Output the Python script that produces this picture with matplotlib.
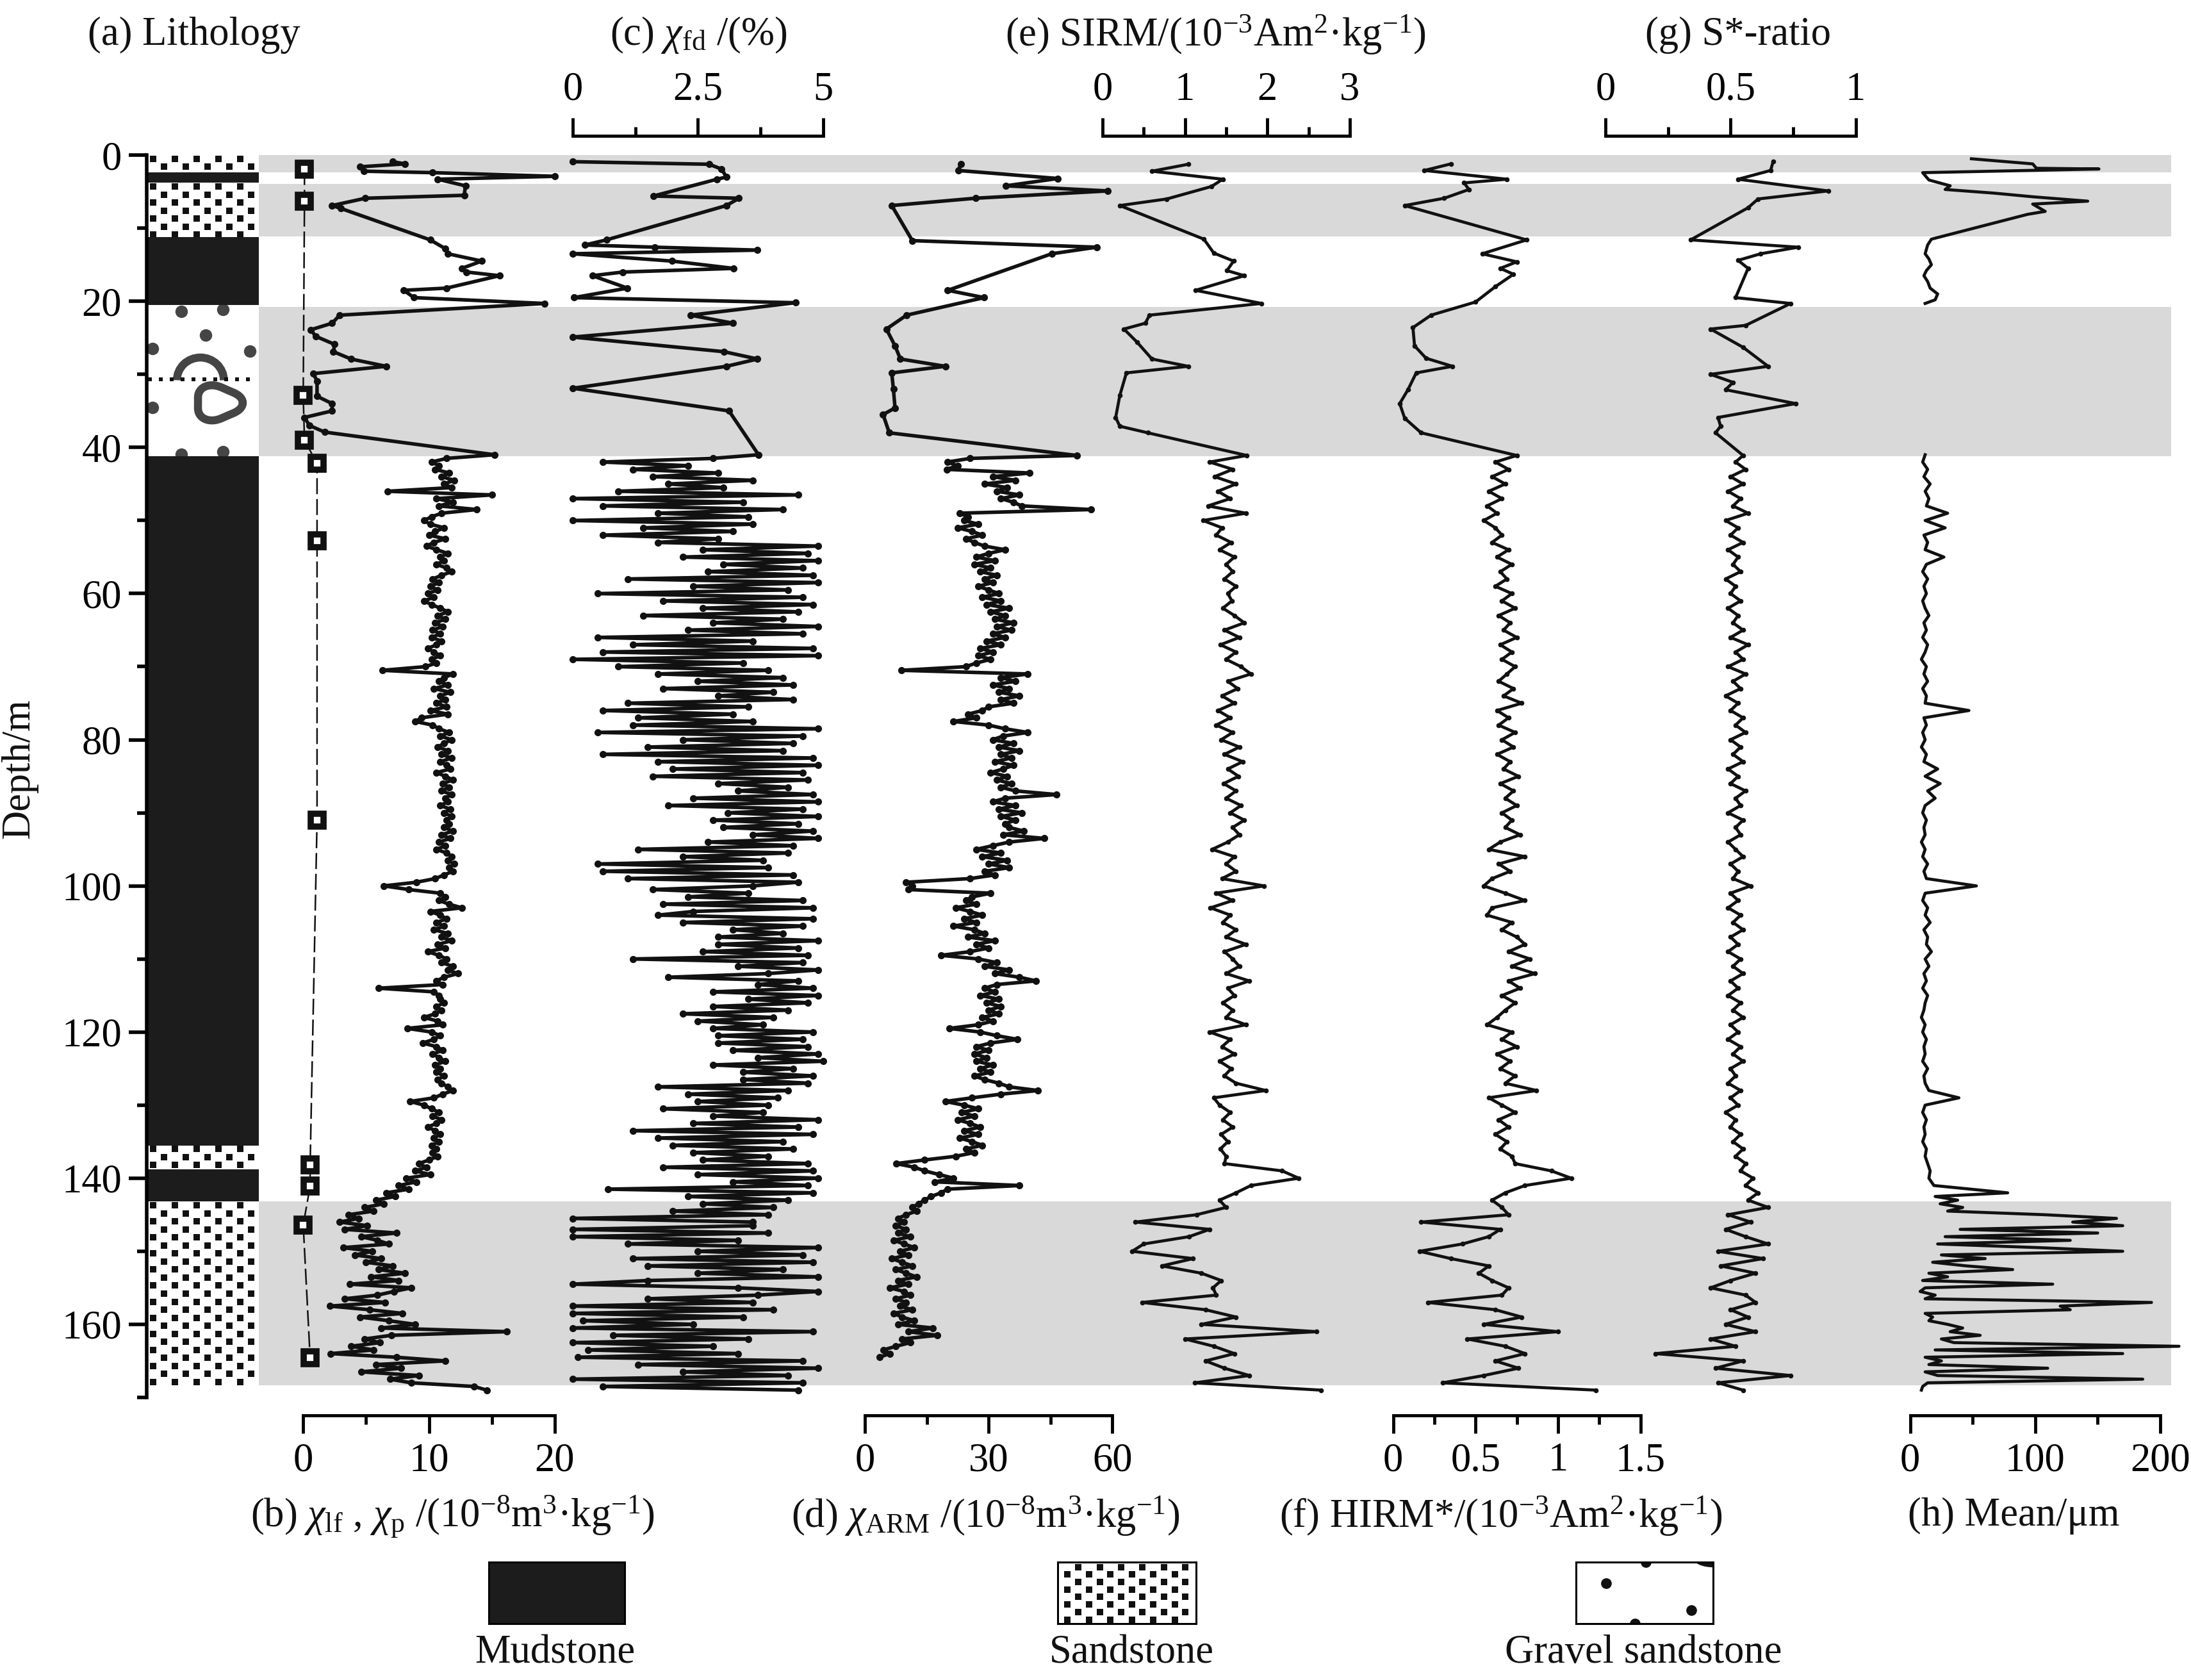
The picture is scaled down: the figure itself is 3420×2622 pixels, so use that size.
import numpy as np
import matplotlib
matplotlib.use("Agg")
import matplotlib.pyplot as plt
from matplotlib.patches import Rectangle, Arc, Circle

plt.rcParams['font.family'] = ['Liberation Serif', 'DejaVu Serif']
plt.rcParams['mathtext.fontset'] = 'custom'
plt.rcParams['mathtext.rm'] = 'Liberation Serif'
plt.rcParams['mathtext.it'] = 'Liberation Serif:italic'
plt.rcParams['mathtext.bf'] = 'Liberation Serif:bold'
plt.rcParams['mathtext.sf'] = 'Liberation Serif'

# ---------------- DATA ----------------
# Lithology (depth in m)
lith_top = [0.0, 2.4, 3.8, 11.2, 20.5, 41.2, 135.5, 138.8, 143.2]
lith_bot = [2.4, 3.8, 11.2, 20.5, 41.2, 135.5, 138.8, 143.2, 168.3]
lith_type = ['sand', 'mud', 'sand', 'mud', 'gravel', 'mud', 'sand', 'mud', 'sand']
# grey (coarse) bands
band_top = [0.0, 3.9, 20.8, 143.2]
band_bot = [2.4, 11.1, 41.2, 168.3]

# (b) chi_lf
chilf_top_d = [0.9, 1.2, 1.6, 2.2, 2.4, 2.9, 3.3, 4.2, 5.5, 5.9, 6.9, 7.3, 11.6, 12.8, 13.5, 14.5,
               15.5, 16.0, 16.5, 18.2, 18.5, 19.5, 20.3, 21.9, 23.0, 23.9, 24.8, 25.9, 26.9, 27.9,
               28.9, 29.9, 30.9, 33.0, 34.0, 35.0, 35.9, 37.0, 37.9, 41.0]
chilf_top_v = [7.1, 8.1, 4.5, 4.8, 10.3, 20.0, 10.7, 12.9, 12.8, 4.95, 2.3, 3.0, 10.1, 11.3, 11.5, 14.2,
               12.6, 13.0, 15.6, 11.4, 8.0, 8.8, 19.2, 2.9, 2.3, 0.6, 1.0, 2.5, 2.4, 3.8,
               6.6, 0.8, 1.1, 1.1, 2.3, 2.3, 0.1, 0.5, 1.7, 15.2]
# dense part, every 0.5 m from 41.5 m
chilf_dense = [
    11.4, 10.2, 10.8, 10.5, 11.6, 11.0, 12.0, 11.2, 11.8, 6.7, 15.0, 10.6, 11.9, 10.8, 13.8, 11.0, 10.2, 9.6, 10.1, 11.2,
    10.5, 10.0, 11.3, 10.4, 9.8, 10.6, 11.5, 10.9, 11.2, 10.6, 11.4, 11.8, 11.0, 10.3, 10.8, 10.1, 10.7, 9.9, 10.4, 9.6,
    10.2, 10.9, 11.5, 10.7, 11.3, 10.5, 11.1, 10.3, 10.9, 10.2, 11.0, 10.6, 9.9, 10.4, 10.9, 10.2, 10.6, 9.7, 6.3, 11.9,
    11.2, 10.8, 11.5, 10.4, 11.7, 10.9, 11.3, 10.6, 11.4, 10.1, 11.5, 9.4, 8.9, 10.3, 10.8, 11.6, 10.9, 11.8, 11.2, 10.7,
    11.5, 11.0, 11.8, 10.9, 11.4, 11.7, 10.6, 11.3, 11.9, 11.1, 11.6, 11.0, 11.8, 11.3, 11.5, 10.9, 11.7, 11.2, 11.8, 11.4,
    11.6, 11.2, 11.9, 11.0, 11.7, 10.8, 11.3, 10.6, 11.4, 11.8, 11.5, 12.0, 11.6, 11.9, 11.2, 10.5, 9.0, 6.4, 8.4, 10.9,
    11.3, 10.8, 11.6, 12.6, 10.1, 10.9, 11.4, 10.6, 11.2, 10.4, 11.5, 11.0, 11.8, 10.7, 11.3, 9.9, 10.8, 11.4, 11.0, 11.9,
    11.5, 12.3, 11.2, 10.6, 11.1, 6.0, 10.4, 10.8, 10.9, 11.2, 10.6, 11.0, 10.5, 9.6, 10.7, 11.1, 8.3, 10.2, 10.9, 10.4,
    9.5, 10.6, 11.1, 10.3, 10.8, 11.3, 10.5, 10.9, 10.6, 11.2, 10.7, 11.0, 11.5, 11.9, 11.1, 10.4, 8.5, 9.6, 10.2, 10.8,
    10.3, 11.0, 10.6, 9.9, 10.5, 10.9, 10.4, 10.8, 10.2, 10.6, 10.3, 10.7, 10.0, 9.2, 9.8, 8.9, 10.1, 8.2, 9.0, 7.6,
    8.4, 6.6, 7.3, 5.8, 6.4, 4.9, 5.6, 3.6, 4.4, 2.9, 5.1, 3.3, 7.4, 4.6, 5.9, 6.8, 3.2, 5.5, 4.1, 6.2,
    5.0, 7.1, 6.0, 8.1, 5.4, 7.6, 3.7, 8.6, 7.2, 5.9, 3.3, 6.5, 2.1, 5.3, 7.9, 4.5, 6.8, 8.9, 6.2, 16.2,
    7.0, 4.9, 6.1, 3.8, 5.6, 2.2, 7.4, 11.3, 5.8, 7.8, 4.6, 9.2, 6.9, 8.6, 13.6, 14.6]
# (b) chi_p
chip_d = [1.9, 6.3, 32.9, 39.0, 42.2, 52.8, 91.0, 138.2, 141.1, 146.4, 164.6]
chip_v = [0.1, 0.1, 0.0, 0.1, 1.1, 1.1, 1.1, 0.55, 0.55, 0.0, 0.55]

# (c) chi_fd
chifd_top_d = [0.9, 1.25, 1.9, 3.0, 3.3, 5.6, 5.9, 6.9, 11.6, 12.3, 12.6, 13.0, 13.5, 14.5, 15.5,
               16.0, 16.5, 18.2, 19.5, 20.2, 21.9, 23.0, 24.9, 26.9, 27.9, 28.9, 31.9, 35.0, 41.0]
chifd_top_v = [0.0, 2.72, 2.97, 3.07, 2.88, 1.61, 3.32, 3.07, 0.67, 0.24, 1.64, 3.69, 0.0, 1.98, 3.21,
               1.0, 0.39, 1.09, 0.02, 4.45, 2.35, 3.2, 0.0, 3.02, 3.69, 3.07, 0.0, 3.12, 3.71]
chifd_dense = [
    2.8, 0.6, 2.3, 1.2, 2.9, 1.6, 3.6, 1.9, 3.0, 0.9, 4.5, 0.0, 3.4, 0.6, 4.2, 1.7, 3.5, 0.0, 3.6, 1.4,
    3.2, 0.6, 2.9, 1.7, 4.9, 2.6, 4.7, 2.2, 4.9, 3.0, 4.6, 2.7, 4.8, 1.1, 4.9, 2.4, 4.3, 0.5, 4.6, 1.8,
    4.8, 2.6, 4.5, 1.4, 4.2, 2.8, 4.9, 2.3, 4.6, 0.5, 3.6, 1.2, 4.8, 0.6, 4.9, 0.0, 3.4, 0.9, 3.9, 1.7,
    4.2, 2.5, 4.4, 1.8, 4.0, 2.9, 4.4, 1.1, 3.5, 0.6, 3.2, 1.3, 3.6, 1.2, 4.9, 0.5, 4.6, 2.2, 4.4, 1.5,
    4.2, 0.6, 4.8, 1.7, 4.9, 2.0, 4.6, 1.6, 4.7, 2.9, 4.3, 3.3, 4.8, 2.4, 4.9, 1.9, 4.6, 3.1, 4.9, 2.8,
    4.5,
    3.0, 4.8, 3.6, 4.9, 2.7, 4.4, 1.3, 4.3, 2.2, 3.8, 0.5, 3.9, 0.6, 4.4, 1.1, 4.5, 3.6, 1.6, 3.5, 2.3,
    4.6, 1.8, 4.8, 2.4, 1.7, 4.8, 2.2, 4.6, 3.2, 4.2, 2.9, 4.9, 2.9, 4.5, 2.6, 4.7, 1.2, 4.6, 3.3, 4.9,
    3.9, 1.9, 4.5, 3.7, 4.8, 2.8, 4.9, 3.5, 4.7, 2.8, 4.3, 2.2, 4.0, 2.5, 3.8, 2.8, 4.8, 2.9, 4.6, 2.9,
    4.7, 3.2, 4.9, 3.7, 5.0, 2.8, 4.4, 3.4, 4.8, 3.4, 4.7, 1.7, 4.3, 2.3, 4.1, 2.5, 3.9, 1.8, 3.8, 2.8,
    4.9, 2.4, 4.5, 1.2, 4.8, 1.7, 4.2, 2.0, 4.4, 2.4, 3.9, 2.6, 4.7, 1.8, 4.8, 2.5, 4.9, 3.2, 4.7, 0.7,
    4.8, 2.3, 4.3, 2.6, 4.0, 2.0, 3.9, 0.0, 3.6,
    3.6, 0.0, 3.9, 0.0, 3.3, 1.1, 4.9, 2.5, 4.6, 1.2, 4.8, 1.5, 4.2, 2.5, 4.9, 1.5, 0.0, 3.3, 4.9, 3.7,
    1.5, 3.6, 0.0, 4.0, 0.0, 3.4, 0.2, 2.4, 0.0, 4.8, 0.8, 3.5, 0.0, 2.8, 0.3, 3.3, 0.1, 4.6, 1.3, 4.9,
    2.2, 4.3, 0.0, 4.6, 0.6, 4.5]

# (d) chi_ARM
chiarm_top_d = [1.2, 2.1, 3.2, 4.2, 4.9, 5.9, 6.9, 11.7, 12.6, 13.5, 18.5, 19.5, 21.9, 23.8, 26.1,
                27.9, 28.9, 29.8, 32.0, 34.6, 35.5, 38.0, 41.1]
chiarm_top_v = [23.3, 22.6, 46.8, 34.2, 58.9, 26.8, 6.5, 11.5, 56.2, 45.3, 20.1, 28.9, 10.1, 5.2, 7.3,
                8.6, 19.5, 6.5, 6.9, 7.3, 4.4, 5.9, 51.4]
chiarm_dense = [
    25.5, 20.0, 22.5, 19.8, 40.0, 31.0, 36.5, 29.0, 34.5, 32.0, 37.5, 33.0, 36.0, 38.0, 54.8, 23.0, 25.0, 24.0, 27.5, 22.5,
    26.0, 28.5, 24.5, 26.5, 29.0, 34.0, 30.0, 27.0, 31.5, 26.5, 30.5, 28.0, 32.0, 29.0, 31.0, 27.5, 30.0, 32.5, 28.5, 33.0,
    29.5, 35.0, 30.5, 34.0, 31.5, 36.0, 32.0, 35.5, 31.0, 34.0, 29.5, 33.0, 28.0, 31.0, 27.5, 30.5, 27.0, 24.5, 8.9, 39.5,
    33.0, 36.5, 31.0, 35.0, 32.5, 37.5, 33.0, 36.0, 30.0, 28.5, 25.0, 27.0, 21.5, 30.0, 34.0, 39.5, 33.5, 31.0, 36.0, 32.5,
    37.5, 33.0, 35.5, 31.5, 36.0, 33.5, 30.5, 34.5, 32.0, 35.5, 33.0, 36.5, 46.5, 34.0, 31.0, 36.5, 32.5, 38.0, 33.0, 36.5,
    34.0,
    35.0, 38.5, 33.5, 43.5, 35.0, 31.0, 27.0, 33.0, 28.5, 34.5, 30.0, 35.0, 29.0, 31.5, 25.5, 10.0, 11.5, 10.5, 30.5, 26.0,
    24.5, 27.0, 22.0, 25.5, 28.5, 24.0, 27.0, 21.5, 26.5, 29.0, 25.0, 31.5, 27.0, 30.0, 25.5, 18.5, 27.5, 32.0, 29.0, 35.0,
    31.5, 37.5, 41.5, 32.0, 29.0, 31.5, 28.0, 32.5, 29.5, 33.0, 30.0, 32.5, 28.5, 31.0, 27.5, 20.5, 28.0, 32.0, 37.0, 30.5,
    27.0, 30.0, 26.5, 29.5, 27.0, 31.0, 28.0, 30.5, 26.5, 29.0, 32.5, 35.0, 42.0, 33.0, 26.0, 19.5, 24.0, 27.5, 23.5, 26.5,
    22.5, 25.5, 28.0, 24.0, 27.5, 23.0, 26.0, 28.5, 24.5, 26.5, 22.0, 14.5, 7.6, 12.0, 14.5, 18.0, 21.5, 17.0, 37.5, 20.0,
    18.5, 16.0, 14.5, 13.0, 11.5, 12.5, 10.0, 8.0, 9.5,
    7.5, 10.0, 8.0, 11.0, 7.0, 9.5, 12.0, 8.5, 10.5, 6.5, 9.0, 11.5, 7.5, 10.0, 12.5, 8.0, 10.5, 6.0, 9.5, 11.0,
    7.5, 10.0, 8.5, 11.5, 7.0, 9.0, 12.0, 8.0, 16.5, 10.5, 17.5, 9.0, 11.0, 7.5, 4.5, 6.0, 3.5]

# (e) SIRM
sirm_top_d = [1.25, 2.2, 3.3, 4.3, 6.0, 6.9, 11.5, 13.4, 14.5, 15.8, 16.5, 18.5, 20.3, 21.9, 23.0,
              23.8, 25.6, 27.9, 28.9, 29.8, 32.9, 35.9, 37.1, 38.0, 41.1]
sirm_top_v = [1.04, 0.6, 1.46, 1.32, 0.78, 0.21, 1.23, 1.35, 1.59, 1.51, 1.72, 1.13, 1.93, 0.57, 0.52,
              0.26, 0.42, 0.6, 1.04, 0.29, 0.21, 0.16, 0.21, 0.55, 1.75]
# every 1 m from 42 m
sirm_dense = [
    1.30, 1.58, 1.36, 1.62, 1.40, 1.55, 1.28, 1.74, 1.22, 1.45, 1.38, 1.56, 1.42, 1.60, 1.50, 1.58, 1.48, 1.62, 1.52, 1.57,
    1.46, 1.60, 1.72, 1.48, 1.66, 1.43, 1.62, 1.50, 1.68, 1.80, 1.52, 1.64, 1.45, 1.60, 1.40, 1.55, 1.38, 1.58, 1.44, 1.66,
    1.48, 1.70, 1.52, 1.65, 1.47, 1.62, 1.50, 1.68, 1.55, 1.72, 1.58, 1.66, 1.52, 1.33, 1.60, 1.50, 1.62, 1.45, 1.96, 1.38,
    1.58, 1.31, 1.55, 1.46, 1.62, 1.50, 1.74, 1.48, 1.58, 1.66, 1.50, 1.78, 1.52, 1.60, 1.46, 1.58, 1.50, 1.74, 1.30, 1.55,
    1.45, 1.60, 1.42, 1.56, 1.48, 1.62, 1.98, 1.35, 1.42, 1.55, 1.46, 1.58, 1.44, 1.52, 1.43, 1.50, 1.48, 2.18, 2.38, 1.80,
    1.62, 1.42, 1.50, 1.14, 0.40, 1.30, 1.05, 0.50, 0.36, 1.10, 0.72, 1.20, 1.44, 1.34, 1.38, 0.48, 1.25, 1.62, 1.20, 2.60,
    1.00, 1.35, 1.60, 1.25, 1.48, 1.78, 1.12, 2.65]

# (f) HIRM*
hirm_top_d = [1.2, 2.1, 3.3, 3.8, 4.7, 5.9, 6.9, 11.6, 13.5, 14.6, 15.5, 16.3, 18.0, 20.1, 21.9,
              23.6, 26.1, 27.8, 28.9, 29.8, 32.1, 34.0, 36.0, 38.0, 41.1]
hirm_top_v = [0.35, 0.19, 0.69, 0.43, 0.46, 0.31, 0.07, 0.81, 0.54, 0.75, 0.65, 0.73, 0.62, 0.5, 0.23,
              0.12, 0.13, 0.2, 0.36, 0.14, 0.09, 0.04, 0.07, 0.17, 0.75]
hirm_dense = [
    0.62, 0.70, 0.60, 0.68, 0.58, 0.66, 0.57, 0.63, 0.55, 0.62, 0.66, 0.60, 0.70, 0.63, 0.72, 0.65, 0.69, 0.62, 0.72, 0.66,
    0.74, 0.64, 0.71, 0.67, 0.75, 0.65, 0.72, 0.66, 0.74, 0.69, 0.64, 0.73, 0.67, 0.78, 0.63, 0.70, 0.64, 0.74, 0.66, 0.73,
    0.63, 0.71, 0.67, 0.76, 0.65, 0.73, 0.68, 0.75, 0.66, 0.72, 0.68, 0.77, 0.65, 0.58, 0.80, 0.64, 0.71, 0.60, 0.55, 0.68,
    0.80, 0.60, 0.57, 0.72, 0.66, 0.75, 0.80, 0.70, 0.83, 0.72, 0.86, 0.70, 0.77, 0.66, 0.74, 0.68, 0.63, 0.57, 0.72, 0.66,
    0.75, 0.63, 0.71, 0.65, 0.74, 0.68, 0.87, 0.58, 0.66, 0.74, 0.64, 0.70, 0.62, 0.69, 0.65, 0.72, 0.74, 0.96, 1.08, 0.80,
    0.68, 0.60, 0.66, 0.70, 0.17, 0.65, 0.58, 0.42, 0.16, 0.35, 0.58, 0.52, 0.60, 0.70, 0.66, 0.21, 0.62, 0.78, 0.55, 1.00,
    0.45, 0.68, 0.80, 0.62, 0.76, 0.55, 0.30, 1.23]

# (g) S*-ratio
sr_top_d = [0.9, 2.1, 3.3, 4.9, 6.0, 7.2, 11.6, 12.6, 13.5, 14.4, 15.5, 19.5, 20.3, 23.3, 23.8,
            26.3, 28.9, 30.0, 31.1, 32.1, 34.0, 35.9, 37.1, 38.0, 41.1]
sr_top_v = [0.67, 0.66, 0.53, 0.89, 0.61, 0.57, 0.34, 0.77, 0.62, 0.53, 0.57, 0.52, 0.74, 0.56, 0.42,
            0.55, 0.65, 0.42, 0.51, 0.48, 0.76, 0.45, 0.46, 0.44, 0.55]
sr_dense = [
    0.52, 0.56, 0.50, 0.55, 0.49, 0.54, 0.51, 0.57, 0.48, 0.53, 0.50, 0.55, 0.49, 0.53, 0.51, 0.54, 0.48, 0.52, 0.50, 0.54,
    0.49, 0.53, 0.51, 0.55, 0.50, 0.57, 0.52, 0.55, 0.49, 0.56, 0.51, 0.54, 0.48, 0.53, 0.50, 0.55, 0.52, 0.56, 0.50, 0.54,
    0.51, 0.55, 0.49, 0.53, 0.50, 0.56, 0.52, 0.54, 0.49, 0.55, 0.52, 0.54, 0.49, 0.52, 0.55, 0.50, 0.53, 0.51, 0.58, 0.50,
    0.53, 0.49, 0.54, 0.51, 0.55, 0.50, 0.53, 0.49, 0.54, 0.51, 0.55, 0.50, 0.53, 0.49, 0.54, 0.51, 0.55, 0.50, 0.53, 0.49,
    0.54, 0.51, 0.55, 0.50, 0.52, 0.49, 0.54, 0.50, 0.53, 0.48, 0.52, 0.50, 0.54, 0.51, 0.55, 0.52, 0.56, 0.54, 0.59, 0.56,
    0.61, 0.57, 0.65, 0.49, 0.58, 0.48, 0.56, 0.65, 0.45, 0.63, 0.46, 0.60, 0.50, 0.42, 0.56, 0.60, 0.50, 0.57, 0.48, 0.60,
    0.42, 0.52, 0.20, 0.55, 0.44, 0.74, 0.45, 0.55]

# (h) Mean grain size
mean_top_d = [0.5, 1.2, 1.8, 1.9, 2.4, 3.4, 4.2, 4.7, 5.2, 5.7, 6.3, 6.7, 7.7, 8.1, 11.5,
              12.3, 13.5, 14.2, 15.0, 15.8, 16.5, 17.3, 18.2, 19.0, 19.8, 20.3]
mean_top_v = [49, 98, 101, 151, 10, 15, 32, 28, 67, 98, 142, 98, 108, 94, 17,
              14, 12, 15, 17, 13, 11, 14, 16, 22, 20, 12]
# every 1 m from 41 m to 142 m
mean_mud = [
    12, 10, 14, 11, 16, 12, 15, 13, 30, 12, 28, 11, 14, 12, 27, 13, 10, 14, 11, 13,
    10, 12, 15, 11, 13, 10, 14, 12, 9, 13, 11, 14, 10, 13, 12, 47, 11, 13, 10, 12,
    9, 13, 11, 22, 12, 24, 14, 20, 12, 10, 13, 11, 12, 9, 12, 10, 14, 11, 13, 53,
    12, 10, 14, 12, 16, 11, 14, 13, 17, 12, 15, 11, 13, 10, 14, 12, 11, 9, 12, 10,
    13, 11, 12, 10, 14, 11, 12, 15, 39, 12, 10, 13, 11, 12, 10, 13, 12, 14, 16, 15,
    19, 78]
# every 0.5 m from 142.5 m
mean_sand = [
    20, 38, 24, 42, 30, 108, 165, 130, 170, 40, 150, 28, 128, 22, 103, 170, 25, 60, 18, 45,
    82, 15, 30, 10, 114, 12, 8, 20, 12, 193, 120, 128, 12, 18, 15, 30, 42, 32, 56, 25,
    35, 215, 20, 170, 12, 25, 15, 110, 12, 22, 186, 14, 10, 9]

# ---------------- LAYOUT ----------------
W, H = 3420, 2622
SX, SY = 1568.0, 1202.2   # reference coordinates used for layout
FS = 45
DMAX = 170.0
Y0, Y1 = 111, 1000        # depth 0 and 170
AXB, AXT = 1013, 97       # scale-bar lines
INK = '#111111'
MUD = '#1c1c1c'
GRAV = '#454545'
BAND = '#d9d9d9'

fig = plt.figure(figsize=(W / 100, H / 100), dpi=100)


def rect(x0, y0, x1, y1):
    return [x0 / SX, 1 - y1 / SY, (x1 - x0) / SX, (y1 - y0) / SY]


# background grey bands
ax_bg = fig.add_axes(rect(185, Y0, 1554, Y1))
ax_bg.set_xlim(0, 1)
ax_bg.set_ylim(DMAX, 0)
ax_bg.axis('off')
for t, b in zip(band_top, band_bot):
    ax_bg.axhspan(t, b, color=BAND, lw=0)

# lithology column + depth axis
ax_l = fig.add_axes(rect(105, Y0, 185, Y1))
ax_l.set_xlim(0, 1)
ax_l.set_ylim(DMAX, 0)
for s in ['top', 'right', 'bottom']:
    ax_l.spines[s].set_visible(False)
ax_l.spines['left'].set_linewidth(4)
ax_l.set_xticks([])
ax_l.set_yticks(np.arange(0, 161, 20))
ax_l.set_yticks(np.arange(10, 171, 20), minor=True)
ax_l.tick_params(axis='y', which='major', length=20, width=4, labelsize=FS, pad=8)
ax_l.tick_params(axis='y', which='minor', length=11, width=4)

xs_even = [0.06, 0.254, 0.448, 0.642, 0.836]
xs_odd = [0.157, 0.351, 0.545, 0.739, 0.933]


def sand_marks(ax, d0, d1, step, xe, xo, ms, z=2):
    rows = np.arange(d0 + step * 0.45, d1 - step * 0.25, step)
    for k, r in enumerate(rows):
        xs = xe if k % 2 == 0 else xo
        ax.plot(xs, [r] * len(xs), ls='none', marker='s', ms=ms, mfc=INK, mec=INK,
                mew=0, zorder=z)


for t, b, kind in zip(lith_top, lith_bot, lith_type):
    if kind == 'mud':
        ax_l.add_patch(Rectangle((0, t), 1, b - t, facecolor=MUD, edgecolor='none', zorder=3))
    elif kind == 'sand':
        ax_l.add_patch(Rectangle((0, t), 1, b - t, facecolor='white', edgecolor='none', zorder=1))
        sand_marks(ax_l, t, b, 1.1, xs_even, xs_odd, 7)
    else:
        ax_l.add_patch(Rectangle((0, t), 1, b - t, facecolor='white', edgecolor='none', zorder=1))
        # gravel symbols
        gx = [0.31, 0.68, 0.53, 0.05, 0.92, 0.05, 0.31, 0.68]
        gy = [21.4, 21.1, 24.6, 26.5, 26.8, 34.5, 40.9, 40.6]
        ax_l.plot(gx, gy, ls='none', marker='o', ms=13, mfc=GRAV, mec=GRAV, zorder=2)
        # arch (inverted depth axis: 180-360 draws the upper half on screen)
        ax_l.add_patch(Arc((0.48, 30.8), 0.42, 6.2, theta1=180, theta2=360, color=GRAV,
                           lw=9, zorder=2))
        # dashed parting line
        ax_l.plot(np.arange(0.03, 1.0, 0.097), [30.7] * 10, ls='none', marker='s', ms=5,
                  mfc=INK, mec=INK, mew=0, zorder=2)
        th = np.linspace(0, 2 * np.pi, 200)
        r = 16.0 * (1 + 0.12 * np.cos(3 * th))
        rx = 0.635 + (r * np.cos(th)) / 80.0
        ry = 33.9 + (r * np.sin(th) * 0.75) / 5.231
        ax_l.plot(rx, ry, color=GRAV, lw=9, zorder=2, solid_capstyle='round')
ax_l.spines['left'].set_zorder(5)


def data_axes(x0, x1, xmax):
    ax = fig.add_axes(rect(x0, Y0, x1, Y1))
    ax.set_xlim(0, xmax)
    ax.set_ylim(DMAX, 0)
    ax.axis('off')
    return ax


def scale_axis(x0, x1, xmax, majors, labels, minors, side):
    if side == 'bottom':
        ax = fig.add_axes(rect(x0, AXB - 1, x1, AXB))
    else:
        ax = fig.add_axes(rect(x0, AXT, x1, AXT + 1))
    ax.set_xlim(0, xmax)
    ax.patch.set_alpha(0)
    for s in ['left', 'right', 'top', 'bottom']:
        ax.spines[s].set_visible(s == side)
    ax.spines[side].set_linewidth(3.5)
    ax.set_yticks([])
    ax.xaxis.set_ticks_position(side)
    ax.set_xticks(majors)
    ax.set_xticklabels(labels)
    ax.set_xticks(minors, minor=True)
    ax.tick_params(axis='x', which='major', direction='out', length=20, width=3.5,
                   labelsize=FS, pad=10)
    ax.tick_params(axis='x', which='minor', direction='out', length=10, width=3.5)
    return ax


LW = 4.0
MS = 7.0
LW2 = 3.4
MS2 = 4.5

# (b)
ax_b = data_axes(217, 397, 20)
d = np.concatenate([chilf_top_d, 41.5 + 0.5 * np.arange(len(chilf_dense))])
v = np.concatenate([chilf_top_v, chilf_dense])
ax_b.plot(v, d, color=INK, lw=LW, marker='o', ms=MS, clip_on=False, zorder=3)
ax_b.plot(chip_v, chip_d, color=INK, lw=1.8, ls=(0, (10, 3)), clip_on=False, zorder=3)
ax_b.plot(chip_v, chip_d, ls='none', marker='s', ms=15, mfc='white', mec=INK, mew=7,
          clip_on=False, zorder=4)
scale_axis(217, 397, 20, [0, 10, 20], ['0', '10', '20'], [5, 15], 'bottom')

# (c)
ax_c = data_axes(410, 589, 5)
d = np.concatenate([chifd_top_d, 41.5 + 0.5 * np.arange(len(chifd_dense))])
v = np.concatenate([chifd_top_v, chifd_dense])
ax_c.plot(v, d, color=INK, lw=LW, marker='o', ms=MS, clip_on=False)
scale_axis(410, 589, 5, [0, 2.5, 5], ['0', '2.5', '5'], [1.25, 3.75], 'top')

# (d)
ax_d = data_axes(619, 796, 60)
d = np.concatenate([chiarm_top_d, 41.5 + 0.5 * np.arange(len(chiarm_dense))])
v = np.concatenate([chiarm_top_v, chiarm_dense])
ax_d.plot(v, d, color=INK, lw=LW, marker='o', ms=MS, clip_on=False)
scale_axis(619, 796, 60, [0, 30, 60], ['0', '30', '60'], [15, 45], 'bottom')

# (e)
ax_e = data_axes(789, 966, 3)
d = np.concatenate([sirm_top_d, 42 + np.arange(len(sirm_dense))])
v = np.concatenate([sirm_top_v, sirm_dense])
ax_e.plot(v, d, color=INK, lw=LW2, marker='o', ms=MS2, clip_on=False)
scale_axis(789, 966, 3, [0, 1, 2, 3], ['0', '1', '2', '3'], [0.5, 1.5, 2.5], 'top')

# (f)
ax_f = data_axes(997, 1174, 1.5)
d = np.concatenate([hirm_top_d, 42 + np.arange(len(hirm_dense))])
v = np.concatenate([hirm_top_v, hirm_dense])
ax_f.plot(v, d, color=INK, lw=LW2, marker='o', ms=MS2, clip_on=False)
scale_axis(997, 1174, 1.5, [0, 0.5, 1, 1.5], ['0', '0.5', '1', '1.5'],
           [0.25, 0.75, 1.25], 'bottom')

# (g)
ax_g = data_axes(1149, 1328, 1)
d = np.concatenate([sr_top_d, 42 + np.arange(len(sr_dense))])
v = np.concatenate([sr_top_v, sr_dense])
ax_g.plot(v, d, color=INK, lw=LW2, marker='o', ms=MS2, clip_on=False)
scale_axis(1149, 1328, 1, [0, 0.5, 1], ['0', '0.5', '1'], [0.25, 0.75], 'top')

# (h)
ax_h = data_axes(1367, 1546, 200)
ax_h.plot(mean_top_v, mean_top_d, color=INK, lw=LW2, clip_on=False)
d = np.concatenate([41 + np.arange(len(mean_mud)), 142.5 + 0.5 * np.arange(len(mean_sand))])
v = np.concatenate([mean_mud, mean_sand])
ax_h.plot(v, d, color=INK, lw=LW2, clip_on=False)
scale_axis(1367, 1546, 200, [0, 100, 200], ['0', '100', '200'], [50, 150], 'bottom')

# ---------------- TEXT ----------------
def ftext(x, y, s, **kw):
    fig.text(x / SX, 1 - y / SY, s, fontsize=FS, color=INK, **kw)


ftext(63, 25, '(a) Lithology', ha='left', va='center')
ftext(500, 25, r'(c) $\chi_{\rm fd}$ /(%)', ha='center', va='center')
ftext(870, 25, r'(e) SIRM/(10$^{-3}$Am$^{2}$·kg$^{-1}$)', ha='center', va='center')
ftext(1244, 25, '(g) S*-ratio', ha='center', va='center')
ftext(324, 1085, r'(b) $\chi_{\rm lf}$ , $\chi_{\rm p}$ /(10$^{-8}$m$^{3}$·kg$^{-1}$)',
      ha='center', va='center')
ftext(705, 1085, r'(d) $\chi_{\rm ARM}$ /(10$^{-8}$m$^{3}$·kg$^{-1}$)', ha='center', va='center')
ftext(1074, 1085, r'(f) HIRM*/(10$^{-3}$Am$^{2}$·kg$^{-1}$)', ha='center', va='center')
ftext(1441, 1085, '(h) Mean/μm', ha='center', va='center')
ftext(14, 550, 'Depth/m', ha='center', va='center', rotation=90)

# ---------------- LEGEND ----------------
def legend_box(x0, x1):
    ax = fig.add_axes(rect(x0, 1118, x1, 1162))
    ax.set_xlim(0, 1)
    ax.set_ylim(0, 1)
    ax.set_xticks([])
    ax.set_yticks([])
    for s in ax.spines.values():
        s.set_linewidth(2.2)
        s.set_zorder(6)
    return ax


lg1 = legend_box(350, 447)
lg1.set_facecolor(MUD)
ftext(397, 1183, 'Mudstone', ha='center', va='center')

lg2 = legend_box(757, 856)
lxe = [0.07, 0.225, 0.38, 0.535, 0.69, 0.845]
lxo = [0.148, 0.303, 0.458, 0.613, 0.768, 0.923]
rows = np.arange(0.07, 1.0, 0.122)
for k, r in enumerate(rows):
    xs = lxe if k % 2 == 0 else lxo
    lg2.plot(xs, [r] * len(xs), ls='none', marker='s', ms=6.5, mfc=INK, mec=INK, mew=0)
ftext(810, 1183, 'Sandstone', ha='center', va='center')

lg3 = legend_box(1128, 1226)
lg3.plot([0.22, 0.84, 0.51, 0.43], [0.66, 0.22, 1.0, 0.0], ls='none', marker='o', ms=11,
         mfc=INK, mec=INK)
lg3.add_patch(Circle((1.0, 1.1), 0.13, fill=False, ec=INK, lw=7))
ftext(1176, 1183, 'Gravel sandstone', ha='center', va='center')

fig.savefig('out.png', dpi=100)
